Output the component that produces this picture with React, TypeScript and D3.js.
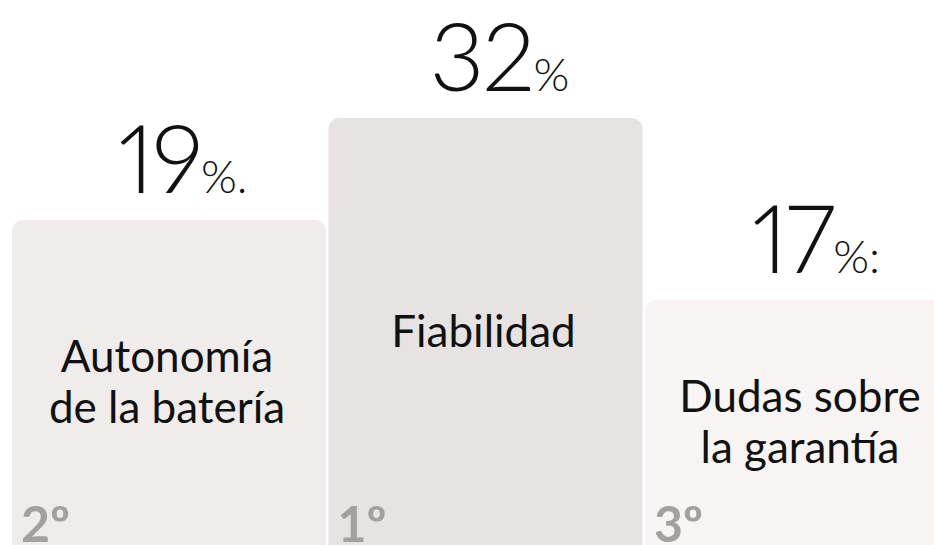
import React from "react";
import * as d3 from "d3";

const categories = ["Autonomía de la batería", "Fiabilidad", "Dudas sobre la garantía"];
const labelLines = [["Autonomía", "de la batería"], ["Fiabilidad"], ["Dudas sobre", "la garantía"]];
const values = [19, 32, 17];
const suffixes = ["%.", "%", "%:"];
const ranks = [2, 1, 3];
const rankLabels = ["2º", "1º", "3º"];

const W = 934;
const H = 545;
const barColors = ["#efeceb", "#e6e3e2", "#f7f4f3"];

export default function App() {
  const x = d3.scaleBand<string>().domain(categories).range([12, 959]).paddingInner(0.008).paddingOuter(0);
  // podium height by rank
  const y = d3.scaleLinear().domain([1, 2, 3]).range([118, 220, 300]);
  const font = "Lato, 'Open Sans', sans-serif";
  const lineH = 51;

  return (
    <svg width={W} height={H} style={{ position: "absolute", left: 0, top: 0, background: "#fff" }}>
      {categories.map((c, i) => {
        const x0 = x(c)!;
        const bw = x.bandwidth();
        const cx = x0 + bw / 2;
        const top = y(ranks[i]);
        const lines = labelLines[i];
        const mid = (top + H) / 2 + 15;
        const firstBase = mid - ((lines.length - 1) * lineH) / 2;
        return (
          <g key={c}>
            <rect x={x0} y={top} width={bw} height={H - top + 20} rx={11} ry={11} fill={barColors[i]} />
            <text
              x={cx + 14}
              y={top - 27}
              textAnchor="middle"
              fontFamily={font}
              fontWeight={300}
              fill="#111"
              style={{ fontVariantNumeric: "proportional-nums", fontFeatureSettings: "'pnum' 1" }}
            >
              <tspan fontSize={95} letterSpacing={-2}>{values[i]}</tspan>
              <tspan fontSize={46}>{suffixes[i]}</tspan>
            </text>
            <text textAnchor="middle" fontFamily={font} fontSize={44} fill="#111">
              {lines.map((l, j) => (
                <tspan key={j} x={cx - 2} y={firstBase + j * lineH}>
                  {l}
                </tspan>
              ))}
            </text>
            <text x={x0 + 9} y={542} fontFamily={font} fontWeight={700} fontSize={50} fill="#a3a19e">
              {rankLabels[i]}
            </text>
          </g>
        );
      })}
    </svg>
  );
}
